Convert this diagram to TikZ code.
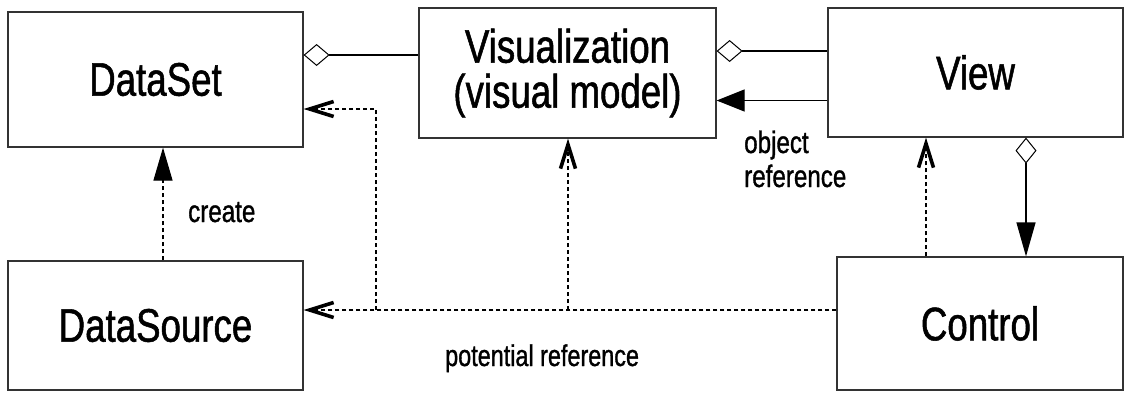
\documentclass[tikz,border=0pt]{standalone}
\usepackage{fontspec}
\setmainfont{Liberation Sans}[FakeStretch=0.78, FakeBold=1.1]
\usetikzlibrary{arrows.meta}

\tikzset{
  box/.style={draw=black!80, line width=1.2pt, fill=white, inner sep=0pt,
    align=center, font=\fontsize{47}{45}\selectfont},
  lbl/.style={inner sep=0pt, font=\fontsize{31}{34}\selectfont},
  conn/.style={line width=1.2pt, black},
  potref/.style={conn, dash pattern=on 4pt off 3pt},
  barbtip/.style={-{Straight Barb[length=24pt, width=15pt, line width=3.6pt, sharp]}},
  filltip/.style={-{Triangle[length=28pt, width=22pt]}},
  slimtip/.style={-{Triangle[length=33pt, width=19pt]}},
  holdtail/.style={{Diamond[open, length=26pt, width=22pt, line width=1pt, fill=white]}-},
  holdslim/.style={{Diamond[open, length=26pt, width=21pt, line width=1pt, fill=white]}-{Triangle[length=34pt, width=19pt]}}
}

\begin{document}
\begin{tikzpicture}[x=1pt, y=-1pt]
  \useasboundingbox (0,0) rectangle (1125,392);

  % classes
  \node[box, minimum width=295pt, minimum height=135pt] (ds)  at (155.5,79.5) {DataSet};
  \node[box, minimum width=297pt, minimum height=130pt] (vis) at (567.5,73) {Visualization\\(visual model)};
  \node[box, minimum width=295pt, minimum height=129pt] (view) at (975.5,72.5) {View};
  \node[box, minimum width=295pt, minimum height=129pt] (src) at (155.5,325.5) {DataSource};
  \node[box, minimum width=286pt, minimum height=133pt] (ctl) at (980,323.5) {Control};

  % helper levels and columns
  \coordinate (h55)  at (0,55);
  \coordinate (h51)  at (0,51);
  \coordinate (h100) at (0,100.5);
  \coordinate (h109) at (0,109);
  \coordinate (h310) at (0,310);
  \coordinate (v163) at (163,0);
  \coordinate (v376) at (376,0);
  \coordinate (v568) at (568,0);
  \coordinate (v926) at (926,0);
  \coordinate (v1026) at (1026,0);
  \coordinate (jA) at (376,310);
  \coordinate (jB) at (568,310);

  % aggregations
  \draw[conn, holdtail] (ds.east |- h55) -- (vis.west |- h55);
  \draw[conn, holdtail] (vis.east |- h51) -- (view.west |- h51);
  \draw[conn, holdslim] (view.south -| v1026) -- (ctl.north -| v1026);

  % object reference
  \draw[conn, filltip] (view.west |- h100) -- (vis.east |- h100);

  % create
  \draw[potref, slimtip] (src.north -| v163) -- (ds.south -| v163);

  % potential references
  \draw[potref, barbtip] (ctl.west |- h310) -- (src.east |- h310);
  \draw[potref, barbtip] (jB) -- (vis.south -| v568);
  \draw[potref, barbtip] (jA) -- (v376 |- h109) -- (ds.east |- h109);
  \draw[potref, barbtip] (ctl.north -| v926) -- (view.south -| v926);

  % labels
  \node[lbl, anchor=base west] (lcreate) at (188,222) {create};
  \node[lbl, anchor=base west, align=left] (lobj) at (744,187) {object\\reference};
  \node[lbl, anchor=base west, font=\fontsize{30}{34}\selectfont] (lpot) at (445,366) {potential reference};
\end{tikzpicture}
\end{document}
